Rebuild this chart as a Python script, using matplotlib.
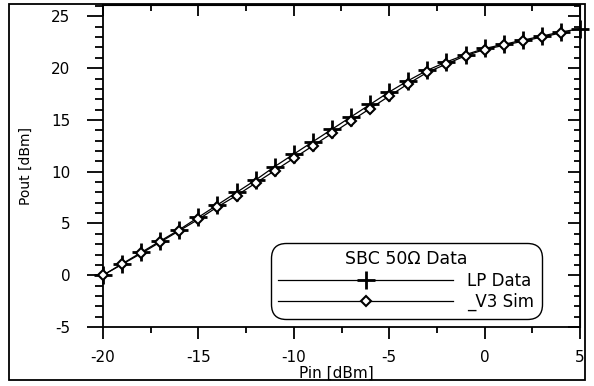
import matplotlib
matplotlib.use('Agg')
import matplotlib.pyplot as plt
from matplotlib.patches import Rectangle
from matplotlib.ticker import MultipleLocator

plt.rcParams['font.family'] = ['DejaVu Sans']
plt.rcParams['axes.unicode_minus'] = False

# Pout vs Pin data
pin_lp = [-20, -19, -18, -17, -16, -15, -14, -13, -12, -11, -10, -9, -8,
          -7, -6, -5, -4, -3, -2, -1, 0, 1, 2, 3, 4, 5]
pout_lp = [0.0, 1.1, 2.2, 3.3, 4.4, 5.6, 6.8, 8.0, 9.2, 10.5, 11.7, 12.9, 14.1,
           15.3, 16.5, 17.7, 18.8, 19.8, 20.6, 21.3, 21.9, 22.3, 22.7, 23.1, 23.5, 23.8]

pin_sim = [-20, -19, -18, -17, -16, -15, -14, -13, -12, -11, -10, -9, -8,
           -7, -6, -5, -4, -3, -2, -1, 0, 1, 2, 3, 4]
pout_sim = [0.0, 1.05, 2.1, 3.2, 4.3, 5.4, 6.6, 7.7, 8.9, 10.1, 11.3, 12.5, 13.7,
            14.9, 16.1, 17.3, 18.5, 19.6, 20.4, 21.2, 21.8, 22.2, 22.6, 23.0, 23.4]

fig = plt.figure(figsize=(5.94, 3.86), dpi=100)
ax = fig.add_axes([103/594, 1 - 327/386, 477/594, 322/386])

h1, = ax.plot(pin_lp, pout_lp, color='black', lw=0.9, marker='+', ms=13, mew=2,
              clip_on=False, zorder=3)
h2, = ax.plot(pin_sim, pout_sim, color='black', lw=0.9, marker='D', ms=5.5, mew=1.5,
              mfc='white', clip_on=False, zorder=3)

ax.set_xlim(-20, 5)
ax.set_ylim(-5, 26.1)
ax.xaxis.set_major_locator(MultipleLocator(5))
ax.xaxis.set_minor_locator(MultipleLocator(2.5))
ax.yaxis.set_major_locator(MultipleLocator(5))
ax.yaxis.set_minor_locator(MultipleLocator(1))
ax.tick_params(axis='y', which='major', direction='out', length=11.5, width=1.3,
               labelsize=11, pad=12)
ax.tick_params(axis='y', which='minor', direction='out', length=5.8, width=1.3)
ax.tick_params(axis='x', which='major', direction='out', length=8.6, width=1.3,
               labelsize=11, pad=8)
ax.tick_params(axis='x', which='minor', direction='out', length=4.3, width=1.3)
for s in ax.spines.values():
    s.set_linewidth(1.3)

# inward ticks on top and right
top = ax.secondary_xaxis('top')
top.xaxis.set_major_locator(MultipleLocator(5))
top.xaxis.set_minor_locator(MultipleLocator(2.5))
top.tick_params(which='major', direction='in', length=8, width=1.3, labeltop=False)
top.tick_params(which='minor', direction='in', length=4, width=1.3)
right = ax.secondary_yaxis('right')
right.yaxis.set_major_locator(MultipleLocator(5))
right.yaxis.set_minor_locator(MultipleLocator(1))
right.tick_params(which='major', direction='in', length=9, width=1.3, labelright=False)
right.tick_params(which='minor', direction='in', length=4.5, width=1.3)

ax.set_xlabel('Pin [dBm]', fontsize=11)
ax.xaxis.set_label_coords(0.49, -0.12)
ax.set_ylabel('Pout [dBm]', fontsize=10)
ax.yaxis.set_label_coords(-0.147, 0.5)

leg = ax.legend([h1, h2], ['LP Data', '_V3 Sim'], title='SBC 50\u03a9 Data',
                loc='center', bbox_to_anchor=(0.636, 0.143),
                handlelength=10.5, fontsize=12, title_fontsize=12.5,
                frameon=True, fancybox=True, edgecolor='black', framealpha=1,
                labelspacing=0.2, borderpad=0.45, handletextpad=0.85, borderaxespad=0)
leg.get_frame().set_linewidth(1.0)
leg.get_frame().set_boxstyle('round', pad=0, rounding_size=0.9)

fig.add_artist(Rectangle((9/594, 6/386), 576/594, 376/386, transform=fig.transFigure,
                         fill=False, lw=1.3, edgecolor='black'))

fig.savefig('out.png', dpi=100)
